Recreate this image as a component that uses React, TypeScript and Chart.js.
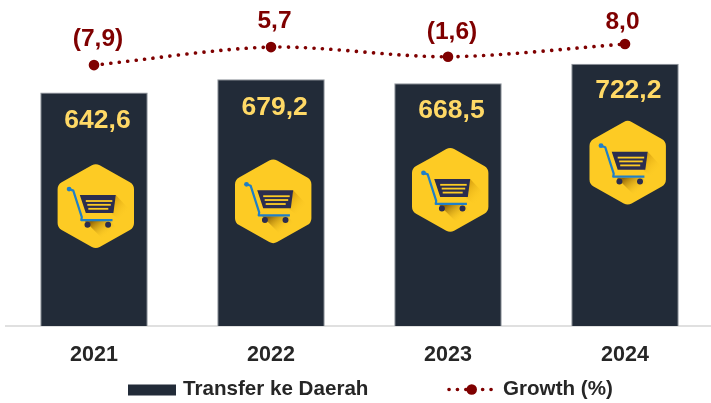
import React, { useEffect, useRef } from "react";
import { Chart, registerables } from "chart.js";

Chart.register(...registerables);

const years = ["2021", "2022", "2023", "2024"];
const transfers = [642.6, 679.2, 668.5, 722.2];
const growth = [-7.9, 5.7, -1.6, 8.0];
const transferLabels = ["642,6", "679,2", "668,5", "722,2"];
const growthLabels = ["(7,9)", "5,7", "(1,6)", "8,0"];

const FONT = '"Liberation Sans", Arial, sans-serif';
const DARK = "#222b38";
const RED = "#7f0000";
const YELLOW = "#ffd966";

// pixel nudges of the annotations, relative to the marks they belong to
const barLabelOffsets = [[3.5, 28], [3.7, 28], [3.5, 27.5], [3.3, 27]];
const growthLabelOffsets = [[4, -26], [3.5, -25.7], [4, -24.3], [-2.5, -21.6]];
const iconOffsets = [[1.8, 113.5], [2.2, 122], [2.2, 106.7], [2.7, 99]];

function drawIcon(c: CanvasRenderingContext2D, x: number, y: number) {
  c.save();
  c.translate(x, y);
  // hexagon
  const w = 38.2, h = 43, cut = 21.5, r = 8;
  const pts: [number, number][] = [
    [0, -h], [w, -cut], [w, cut], [0, h], [-w, cut], [-w, -cut],
  ];
  c.beginPath();
  c.moveTo((pts[5][0] + pts[0][0]) / 2, (pts[5][1] + pts[0][1]) / 2);
  pts.forEach((p, i) => {
    const n = pts[(i + 1) % 6];
    c.arcTo(p[0], p[1], (p[0] + n[0]) / 2, (p[1] + n[1]) / 2, r);
  });
  c.closePath();
  c.fillStyle = "#fdcb24";
  c.fill();
  c.clip();
  // soft shadows of the basket and of the wheels
  const s1 = c.createLinearGradient(14, -6, 30, 8);
  s1.addColorStop(0, "rgba(190,130,0,0.7)");
  s1.addColorStop(1, "rgba(253,203,36,0)");
  c.fillStyle = s1;
  c.beginPath();
  c.moveTo(20, -11);
  c.lineTo(34, 4);
  c.lineTo(24, 14);
  c.lineTo(16, 8);
  c.closePath();
  c.fill();
  const s2 = c.createLinearGradient(-2, 14, 10, 30);
  s2.addColorStop(0, "rgba(130,85,0,0.85)");
  s2.addColorStop(1, "rgba(253,203,36,0)");
  c.fillStyle = s2;
  c.beginPath();
  c.moveTo(-11, 15);
  c.lineTo(15, 15);
  c.lineTo(24, 27);
  c.lineTo(8, 34);
  c.closePath();
  c.fill();
  // basket
  c.fillStyle = "#2b2d4f";
  c.beginPath();
  c.moveTo(-16, -11);
  c.lineTo(20, -11);
  c.lineTo(17.6, 7);
  c.lineTo(-10, 7);
  c.closePath();
  c.fill();
  c.fillStyle = "#fdcb24";
  c.fillRect(-10, -6, 26.5, 1.8);
  c.fillRect(-8.5, -2.2, 23.5, 1.8);
  c.fillRect(-7.5, 1.8, 20, 1.8);
  // handle and frame
  c.strokeStyle = "#1f7fc7";
  c.lineWidth = 2.2;
  c.lineJoin = "round";
  c.beginPath();
  c.moveTo(-26.7, -17);
  c.lineTo(-22.5, -15.5);
  c.lineTo(-14, 11);
  c.lineTo(-14.5, 14);
  c.lineTo(16.7, 14);
  c.stroke();
  c.fillStyle = "#1f7fc7";
  c.beginPath();
  c.arc(-26.7, -17, 2.4, 0, Math.PI * 2);
  c.fill();
  // wheels
  c.fillStyle = "#2b2d4f";
  c.beginPath();
  c.arc(-8.3, 18.7, 3, 0, Math.PI * 2);
  c.arc(12.3, 18.7, 3, 0, Math.PI * 2);
  c.fill();
  c.restore();
}

const annotations = {
  id: "annotations",
  afterDatasetsDraw(chart: any) {
    const c: CanvasRenderingContext2D = chart.ctx;
    const bars = chart.getDatasetMeta(0).data;
    const points = chart.getDatasetMeta(1).data;
    c.save();
    c.textAlign = "center";
    c.textBaseline = "middle";
    bars.forEach((b: any, i: number) => {
      drawIcon(c, b.x + iconOffsets[i][0], b.y + iconOffsets[i][1]);
      c.font = `bold 26.5px ${FONT}`;
      c.fillStyle = YELLOW;
      c.fillText(transferLabels[i], b.x + barLabelOffsets[i][0], b.y + barLabelOffsets[i][1]);
    });
    points.forEach((p: any, i: number) => {
      c.font = `bold 24.5px ${FONT}`;
      c.fillStyle = RED;
      c.fillText(growthLabels[i], p.x + growthLabelOffsets[i][0], p.y + growthLabelOffsets[i][1]);
    });

    // legend
    const ly = 389;
    c.textAlign = "left";
    c.font = `bold 20.6px ${FONT}`;
    c.fillStyle = "#262626";
    c.fillText(chart.data.datasets[0].label, 183, ly);
    c.fillText(chart.data.datasets[1].label, 503, ly);
    c.fillStyle = DARK;
    c.fillRect(128, 384.5, 48, 11);
    c.strokeStyle = RED;
    c.lineWidth = 3.6;
    c.lineCap = "round";
    c.setLineDash([0.1, 8.3]);
    c.beginPath();
    c.moveTo(449, 389.5);
    c.lineTo(492, 389.5);
    c.stroke();
    c.setLineDash([]);
    c.fillStyle = RED;
    c.beginPath();
    c.arc(471.7, 389.5, 5.3, 0, Math.PI * 2);
    c.fill();
    c.restore();
  },
};

export default function App() {
  const ref = useRef<HTMLCanvasElement>(null);
  useEffect(() => {
    document.body.style.margin = "0";
    document.body.style.background = "#ffffff";
    const chart = new Chart(ref.current!, {
      type: "bar",
      plugins: [annotations],
      data: {
        labels: years,
        datasets: [
          {
            label: "Transfer ke Daerah",
            data: transfers,
            backgroundColor: DARK,
            borderColor: "#8f949b",
            borderWidth: { top: 1, left: 1, right: 1, bottom: 0 },
            categoryPercentage: 1,
            barPercentage: 107.5 / 177,
            yAxisID: "y",
            order: 2,
          },
          {
            type: "line",
            label: "Growth (%)",
            data: growth,
            borderColor: RED,
            backgroundColor: RED,
            borderWidth: 3.6,
            borderDash: [0.1, 8.4],
            borderCapStyle: "round",
            tension: 0.3,
            pointRadius: 5.3,
            pointHoverRadius: 5.3,
            pointBackgroundColor: RED,
            pointBorderWidth: 0,
            yAxisID: "y1",
            order: 1,
          },
        ],
      } as any,
      options: {
        animation: false,
        responsive: false,
        layout: { padding: { left: 5.5, right: 6.5, top: 0, bottom: 0 } },
        plugins: { legend: { display: false }, tooltip: { enabled: false } },
        scales: {
          x: {
            offset: true,
            afterFit(s: any) { s.height = 77; },
            grid: { display: false, drawTicks: false },
            border: { color: "#e0e0e0", width: 2 },
            ticks: {
              color: "#262626",
              font: { family: FONT, size: 21.5, weight: "bold" },
              padding: 16,
              maxRotation: 0,
            },
          },
          y: { display: false, min: 0, max: 883 },
          y1: { display: false, min: -205.1, max: 37.3 },
        },
      } as any,
    });
    return () => chart.destroy();
  }, []);
  return (
    <div style={{ width: 711, height: 403, overflow: "hidden", position: "relative" }}>
      <canvas ref={ref} width={720} height={403} style={{ display: "block" }} />
    </div>
  );
}
